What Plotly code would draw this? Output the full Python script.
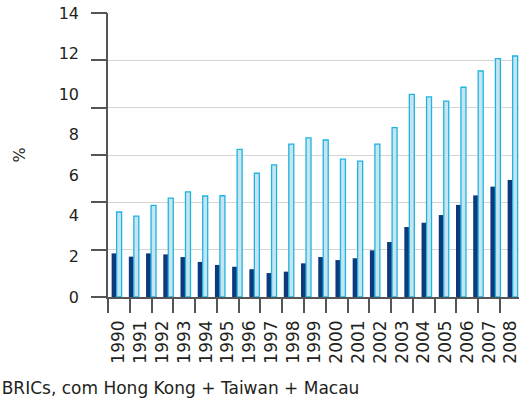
import plotly.graph_objects as go

# 24 bar slots (the bars are drawn on their own category axis)
periods = ["1", "2", "3", "4", "5", "6", "7", "8", "9", "10", "11", "12",
           "13", "14", "15", "16", "17", "18", "19", "20", "21", "22", "23", "24"]

# year tick labels shown under the chart
years = ["1990", "1991", "1992", "1993", "1994", "1995", "1996", "1997", "1998", "1999",
         "2000", "2001", "2002", "2003", "2004", "2005", "2006", "2007", "2008"]

dark_name = "BRICs"
light_name = "BRICs, com Hong Kong + Taiwan + Macau"

dark_values = [2.15, 1.99, 2.15, 2.10, 1.97, 1.73, 1.58, 1.49, 1.37, 1.18, 1.25, 1.66,
               1.97, 1.82, 1.91, 2.30, 2.71, 3.45, 3.66, 4.04, 4.54, 5.01, 5.44, 5.77]
light_values = [4.19, 3.99, 4.52, 4.87, 5.18, 4.98, 4.99, 7.28, 6.10, 6.51, 7.54, 7.84,
                7.74, 6.80, 6.70, 7.54, 8.35, 9.99, 9.87, 9.66, 10.34, 11.14, 11.75, 11.88]

AXIS = "#555555"
TEXT = "#231f20"

fig = go.Figure()
fig.add_trace(go.Bar(x=periods, y=dark_values, name=dark_name, legendrank=2,
                     legendgroup="dark",
                     marker=dict(color="#0c3a7d", line=dict(width=0)),
                     xaxis="x", yaxis="y"))
fig.add_trace(go.Bar(x=periods, y=light_values, name=light_name, legendrank=1,
                     legendgroup="light",
                     marker=dict(color="#c6e5f1", line=dict(color="#1fb4e0", width=1.3)),
                     xaxis="x", yaxis="y"))
# invisible helpers so the overlay axes are drawn
fig.add_trace(go.Scatter(x=years, y=[0] * len(years), xaxis="x2", yaxis="y",
                         mode="markers", marker=dict(opacity=0), showlegend=False,
                         hoverinfo="skip"))
fig.add_trace(go.Scatter(x=periods[:1], y=[0], xaxis="x", yaxis="y2",
                         mode="markers", marker=dict(opacity=0), showlegend=False,
                         hoverinfo="skip"))

fig.update_layout(
    width=519, height=400,
    margin=dict(l=108, r=0, t=13, b=103, autoexpand=False),
    plot_bgcolor="white", paper_bgcolor="white",
    barmode="group", bargap=0.42, bargroupgap=0,
    font=dict(family="DejaVu Sans", color=TEXT, size=16),
    showlegend=True,
    legend=dict(orientation="v", x=-0.356, xanchor="left", y=-0.257, yanchor="top",
                font=dict(size=17), bgcolor="rgba(0,0,0,0)", tracegroupgap=30),
    xaxis=dict(type="category", range=[-0.5, 23.37], showline=True, linecolor=AXIS,
               linewidth=1.5, ticks="", showticklabels=False, showgrid=False,
               zeroline=False),
    xaxis2=dict(type="category", overlaying="x", anchor="y", side="bottom",
                categoryorder="array", categoryarray=years,
                tickmode="array", tickvals=years, ticktext=years,
                range=[-0.5, 18.37], tickson="boundaries", ticks="outside",
                ticklen=15, tickwidth=1.5, tickcolor=AXIS, tickangle=-90,
                tickfont=dict(size=17), ticklabeloverflow="allow", ticklabelstandoff=19,
                showgrid=False, showline=False, zeroline=False),
    yaxis=dict(range=[0, 14], tick0=0, dtick=2, showline=True, linecolor=AXIS,
               linewidth=1.5, ticks="", showgrid=False, zeroline=False,
               tickfont=dict(size=16), ticklabelstandoff=24, ticklabeloverflow="allow",
               title=dict(text="%", standoff=29, font=dict(size=16)), automargin=True),
    yaxis2=dict(overlaying="y", anchor="x", side="left", range=[0, 12], tick0=0, dtick=2,
                showgrid=True, gridcolor="#d4d4d4", gridwidth=1.2, ticks="outside",
                ticklen=16, tickwidth=1.5, tickcolor=AXIS, showticklabels=False,
                zeroline=False, showline=False),
)

fig.write_html("out.html", config={"displayModeBar": False},
               post_script="document.body.style.margin = '0';")
